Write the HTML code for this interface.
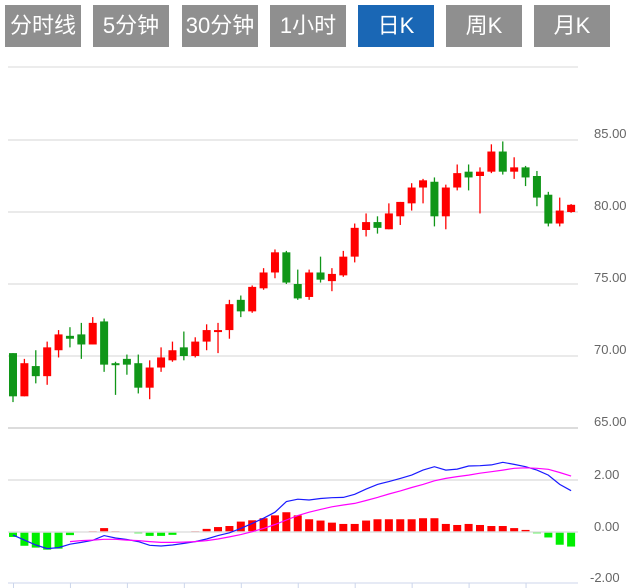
<!DOCTYPE html>
<html><head><meta charset="utf-8">
<style>
html,body{margin:0;padding:0;background:#fff;width:636px;height:588px;overflow:hidden}
.btn{position:absolute;top:5px;height:42px;width:76px;background:#8f8f8f;color:#fff;font:22px "Liberation Sans","Noto Sans CJK SC",sans-serif;line-height:42px;text-align:center}
.btn.on{background:#1a67b5}
svg{position:absolute;left:0;top:0}
</style></head><body>
<div class="btn" style="left:5px">分时线</div>
<div class="btn" style="left:93px">5分钟</div>
<div class="btn" style="left:182px">30分钟</div>
<div class="btn" style="left:270px">1小时</div>
<div class="btn on" style="left:358px">日K</div>
<div class="btn" style="left:446px">周K</div>
<div class="btn" style="left:534px">月K</div>
<svg id="chart" width="636" height="588"></svg>
<script>
const opens =[70.2,67.2,69.3,68.6,70.4,71.4,71.5,70.8,72.4,69.5,69.8,69.5,67.8,69.2,69.7,70.6,70.0,71.0,71.7,71.8,73.9,73.1,74.7,75.8,77.2,75.0,74.1,75.8,75.2,75.6,76.9,78.75,79.3,78.8,79.7,80.6,81.7,82.1,79.7,81.7,82.8,82.5,82.8,84.2,82.8,83.1,82.5,81.2,79.2,80.0];
const closes=[67.2,69.5,68.6,70.6,71.5,71.2,70.8,72.3,69.4,69.4,69.4,67.8,69.2,69.9,70.4,70.0,71.0,71.8,71.8,73.6,73.1,74.8,75.8,77.2,75.1,74.0,75.8,75.3,75.7,76.9,78.9,79.3,78.9,79.9,80.7,81.7,82.2,79.7,81.7,82.7,82.4,82.8,84.2,82.8,83.1,82.4,81.0,79.2,80.1,80.5];
const highs =[70.2,69.8,70.4,71.0,71.8,72.0,72.3,72.7,72.6,69.6,70.1,70.1,69.7,70.6,71.0,71.7,71.3,72.2,72.3,73.9,74.2,74.9,76.1,77.4,77.3,76.0,76.0,76.9,76.1,77.3,79.2,79.9,79.7,80.6,80.7,82.0,82.3,82.4,81.9,83.3,83.3,83.1,84.7,84.9,83.8,83.2,82.85,81.4,81.0,80.55];
const lows  =[66.8,67.2,68.1,68.0,69.9,70.6,69.8,70.8,68.9,67.3,68.7,67.4,67.0,68.9,69.6,69.7,69.9,70.4,70.2,71.2,72.7,73.0,74.6,75.4,75.0,73.9,73.9,75.1,74.5,75.5,76.5,78.3,78.5,78.8,79.1,80.1,80.6,79.0,78.8,81.5,81.5,79.9,82.7,82.6,82.3,81.8,80.4,79.0,79.0,79.95];
const hist=[-0.19,-0.53,-0.6,-0.68,-0.64,-0.12,0,0.03,0.15,0.03,0,-0.05,-0.15,-0.15,-0.11,0,0.03,0.12,0.19,0.23,0.4,0.45,0.53,0.64,0.76,0.64,0.49,0.44,0.36,0.31,0.31,0.44,0.49,0.49,0.49,0.49,0.53,0.53,0.31,0.27,0.31,0.27,0.23,0.23,0.15,0.08,-0.05,-0.21,-0.49,-0.56];
const dif=[-0.12,-0.31,-0.5,-0.64,-0.6,-0.47,-0.4,-0.32,-0.14,-0.23,-0.29,-0.37,-0.51,-0.54,-0.5,-0.44,-0.37,-0.27,-0.14,-0.03,0.14,0.33,0.53,0.76,1.17,1.26,1.23,1.29,1.32,1.33,1.45,1.65,1.83,1.94,2.06,2.19,2.38,2.51,2.38,2.42,2.54,2.55,2.58,2.68,2.6,2.51,2.38,2.19,1.83,1.59];
const dea=[null,null,null,null,null,-0.37,-0.33,-0.31,-0.28,-0.28,-0.31,-0.33,-0.37,-0.4,-0.4,-0.39,-0.37,-0.33,-0.27,-0.19,-0.1,0.01,0.14,0.29,0.46,0.63,0.76,0.87,0.97,1.04,1.1,1.21,1.33,1.46,1.58,1.71,1.83,1.97,2.06,2.13,2.19,2.26,2.32,2.38,2.45,2.47,2.45,2.41,2.29,2.15];
const priceTicks=[85,80,75,70,65];
const macdTicks=[2,0,-2];

const svg=document.getElementById('chart');
const NS='http://www.w3.org/2000/svg';
function mk(t,a){const e=document.createElementNS(NS,t);for(const k in a)e.setAttribute(k,a[k]);svg.appendChild(e);return e;}
const xs=i=>13+i*11.39;
const yp=p=>140+(85-p)*14.4;
const ym=v=>532-v*26;
const L=8,R=578;

let e=mk('line',{x1:L,x2:R,y1:67,y2:67,stroke:'#ececec','stroke-width':2});

priceTicks.forEach(t=>{
  const g=mk('line',{x1:L,x2:R,y1:yp(t),y2:yp(t),stroke:t===65?'#dcdcdc':'#e3e3e3','stroke-width':t===65?2:1.5});
  
  const l=mk('text',{x:594,y:yp(t)-2,'font-size':13,fill:'#666','font-family':'Liberation Sans, sans-serif'});
  l.textContent=t.toFixed(2);
  
});
macdTicks.forEach(t=>{
  if(t===2){const g=mk('line',{x1:L,x2:R,y1:ym(t),y2:ym(t),stroke:'#e0e0e0','stroke-width':1.5});
  }
  const l=mk('text',{x:t<0?590:594,y:ym(t)-1+(t<0?-1:0),'font-size':13,fill:'#666','font-family':'Liberation Sans, sans-serif'});
  l.textContent=t.toFixed(2);
  
});
// x axis
e=mk('line',{x1:L,x2:R,y1:583,y2:583,stroke:'#ccd6eb','stroke-width':1});

for(let i=0;i<opens.length;i+=5){
  const tk=mk('line',{x1:xs(i)+0.5,x2:xs(i)+0.5,y1:583,y2:588,stroke:'#ccd6eb'});
  
}
// histogram
hist.forEach((v,i)=>{
  if(v===0)return;
  const y0=ym(0),y1=ym(v);
  const r=mk('rect',{x:xs(i)-4,y:Math.min(y0,y1),width:8,height:Math.max(1,Math.abs(y1-y0)),fill:v>0?'#ff0000':'#00ee00'});
  
});
e=mk('line',{x1:L,x2:R,y1:532,y2:532,stroke:'#e0e0e0','stroke-width':1.5});

function poly(arr,color,name){
  const pts=[];arr.forEach((v,i)=>{if(v!==null)pts.push(xs(i).toFixed(1)+','+ym(v).toFixed(1));});
  const p=mk('polyline',{points:pts.join(' '),fill:'none',stroke:color,'stroke-width':1.2});
  
}
poly(dif,'#1a1aff','dif-line');
poly(dea,'#ff00ff','dea-line');
// candles
opens.forEach((o,i)=>{
  const c=closes[i],up=c>=o,col=up?'#ff0000':'#109618';
  const w=mk('line',{x1:xs(i),x2:xs(i),y1:yp(highs[i]),y2:yp(lows[i]),stroke:col,'stroke-width':1.3});
  
  const top=yp(Math.max(o,c)),bot=yp(Math.min(o,c));
  const b=mk('rect',{x:xs(i)-4,y:top,width:8,height:Math.max(2,bot-top),fill:col});
  
});
</script>
</body></html>
